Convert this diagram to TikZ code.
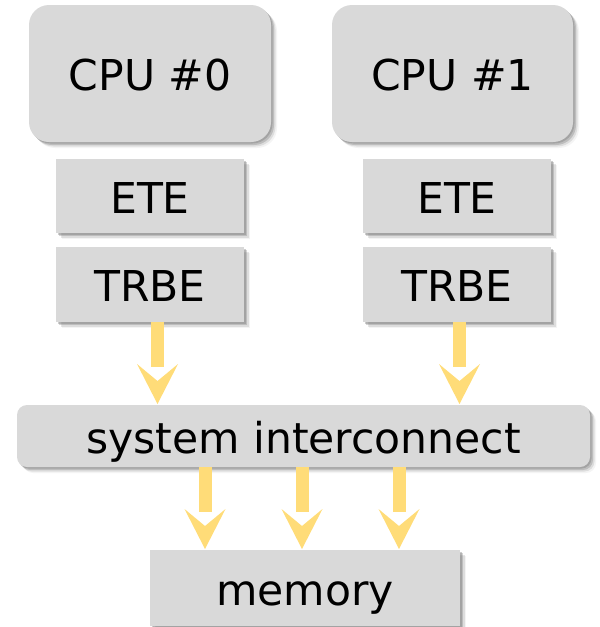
\documentclass[tikz,border=0pt]{standalone}
\usepackage{fontspec}
\setmainfont{DejaVu Sans}
\usetikzlibrary{shadows,calc}
\definecolor{boxc}{RGB}{217,217,217}
\definecolor{arrowc}{RGB}{255,220,120}
\tikzset{
  softshadow/.style={
    drop shadow={shadow xshift=1.5pt,shadow yshift=-1.5pt,opacity=.35,fill=black!55},
    drop shadow={shadow xshift=3pt,shadow yshift=-3pt,opacity=.3,fill=black!55},
    drop shadow={shadow xshift=4.5pt,shadow yshift=-4.5pt,opacity=.18,fill=black!55},
    drop shadow={shadow xshift=6pt,shadow yshift=-6pt,opacity=.08,fill=black!55}},
  blockbox/.style={fill=boxc, draw=none, softshadow, inner sep=0pt,
    text height=34pt, text depth=0pt,
    font=\fontsize{42.5}{50}\selectfont},
  shaft/.style={draw=arrowc, line width=13pt},
  headfill/.style={fill=arrowc}
}
\newcommand{\flowarrow}[2]{%
  \draw[shaft] (#1) -- ($(#2)+(0,-37)$);
  \fill[headfill] (#2) -- ++(-20.5,-40) -- ++(20.5,17) -- ++(20.5,-17) -- cycle;
}
\begin{document}
\begin{tikzpicture}[x=1pt,y=-1pt]
\useasboundingbox (0,0) rectangle (600,627);
\node[blockbox, rounded corners=20pt, minimum width=242pt, minimum height=137pt] (cpu0) at (150,73.5) {CPU \#0};
\node[blockbox, rounded corners=20pt, minimum width=241pt, minimum height=137pt] (cpu1) at (452.5,73.5) {CPU \#1};
\node[blockbox, minimum width=188pt, minimum height=74pt] (ete0) at (150,196) {ETE};
\node[blockbox, minimum width=188pt, minimum height=75pt] (trbe0) at (150,284.5) {TRBE};
\node[blockbox, minimum width=188pt, minimum height=74pt] (ete1) at (457,196) {ETE};
\node[blockbox, minimum width=188pt, minimum height=75pt] (trbe1) at (457,284.5) {TRBE};
\node[blockbox, rounded corners=10pt, minimum width=573pt, minimum height=62pt] (ic) at (303.5,436) {system interconnect};
\node[blockbox, minimum width=310pt, minimum height=76pt] (mem) at (305,588) {memory};
\coordinate (t0) at (157.5,404);
\coordinate (t1) at (459.5,404);
\coordinate (m0) at (205,549);
\coordinate (m1) at (302,549);
\coordinate (m2) at (399,549);
\flowarrow{trbe0.south -| t0}{t0}
\flowarrow{trbe1.south -| t1}{t1}
\flowarrow{ic.south -| m0}{m0}
\flowarrow{ic.south -| m1}{m1}
\flowarrow{ic.south -| m2}{m2}
\end{tikzpicture}
\end{document}
